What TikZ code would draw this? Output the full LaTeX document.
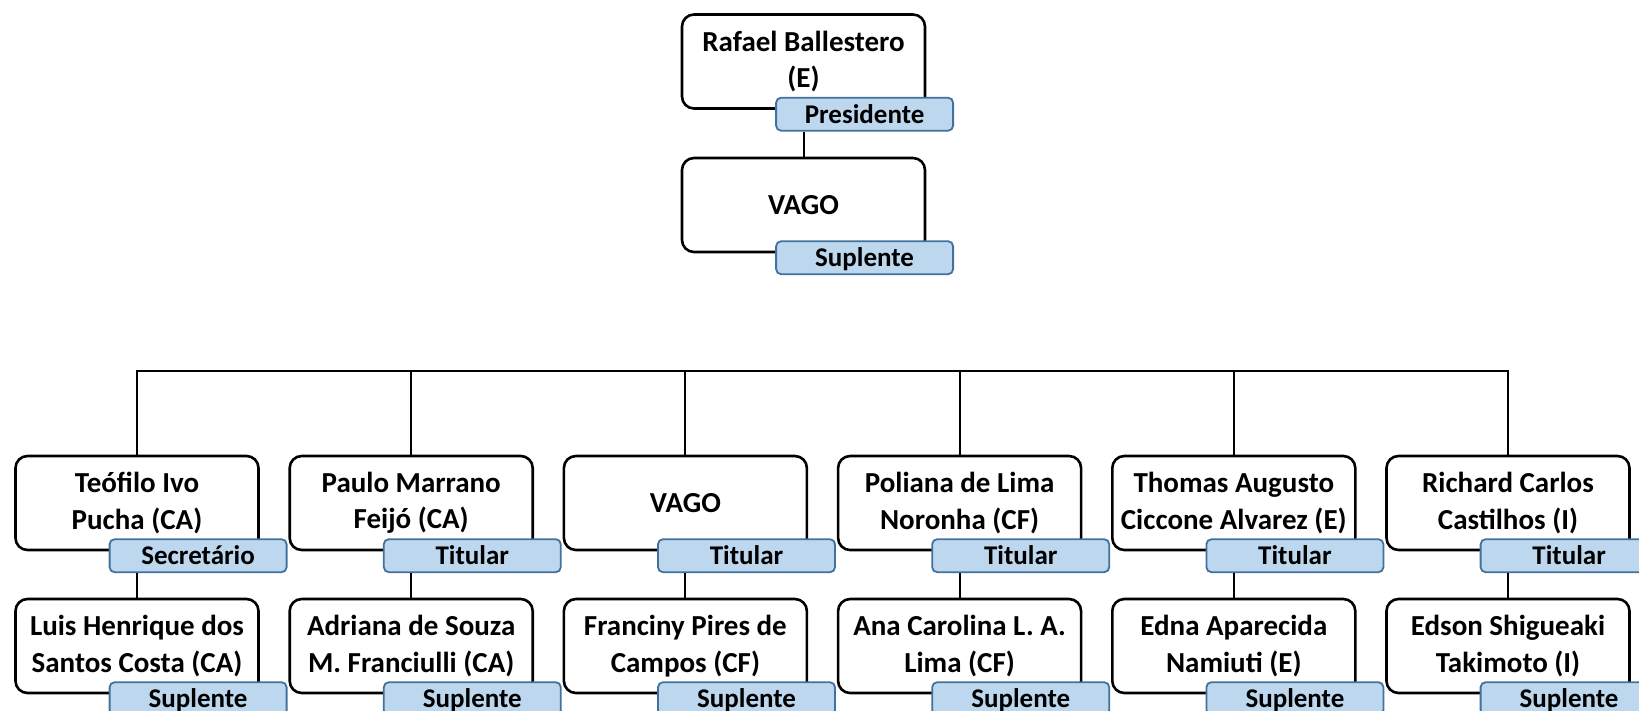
\documentclass[tikz,border=0pt]{standalone}
\usepackage{fontspec}
\setmainfont{Carlito}
\usetikzlibrary{positioning}
\definecolor{rolefill}{HTML}{BDD7EE}
\definecolor{roleline}{HTML}{41719C}

\begin{document}
\begin{tikzpicture}[x=1pt,y=-1pt,
font=\bfseries,
member/.style={draw,line width=2.6pt,rounded corners=12pt,minimum width=243pt,minimum height=94pt,align=center,inner sep=0pt,font=\fontsize{29}{36.5}\selectfont\bfseries},
role/.style={draw=roleline,fill=rolefill,line width=1.8pt,rounded corners=5pt,minimum width=177pt,minimum height=33pt,inner sep=0pt,text height=18pt,text depth=0pt,font=\fontsize{27}{32}\selectfont\bfseries,below right=-13pt and 94.5pt of #1.south west},
link/.style={line width=2pt},
]
\useasboundingbox (0,0) rectangle (1639,710);

%Presidencia
\node[member](pres)at(803.5,61.5){Rafael Ballestero\\(E)};
\node[role=pres](presrole){Presidente};
\node[member](vice)at(803.5,205){VAGO};
\node[role=vice](vicerole){Suplente};

%Titulares
\node[member](m1)at(137,503){Teófilo Ivo\\Pucha (CA)};
\node[role=m1](m1role){Secretário};
\node[member](m2)at(411.2,503){Paulo Marrano\\Feijó (CA)};
\node[role=m2](m2role){Titular};
\node[member](m3)at(685.4,503){VAGO};
\node[role=m3](m3role){Titular};
\node[member](m4)at(959.6,503){Poliana de Lima\\Noronha (CF)};
\node[role=m4](m4role){Titular};
\node[member](m5)at(1233.8,503){Thomas Augusto\\Ciccone Alvarez (E)};
\node[role=m5](m5role){Titular};
\node[member](m6)at(1508,503){Richard Carlos\\Castilhos (I)};
\node[role=m6](m6role){Titular};

%Suplentes
\node[member](s1)at(137,646){Luis Henrique dos\\Santos Costa (CA)};
\node[role=s1](s1role){Suplente};
\node[member](s2)at(411.2,646){Adriana de Souza\\M. Franciulli (CA)};
\node[role=s2](s2role){Suplente};
\node[member](s3)at(685.4,646){Franciny Pires de\\Campos (CF)};
\node[role=s3](s3role){Suplente};
\node[member](s4)at(959.6,646){Ana Carolina L. A.\\Lima (CF)};
\node[role=s4](s4role){Suplente};
\node[member](s5)at(1233.8,646){Edna Aparecida\\Namiuti (E)};
\node[role=s5](s5role){Suplente};
\node[member](s6)at(1508,646){Edson Shigueaki\\Takimoto (I)};
\node[role=s6](s6role){Suplente};

%Ligacoes
\draw[link](presrole.south -| pres)--(vice);
\draw[link](m1.north)--++(0,-84)-|(m6.north);
\draw[link](m2.north)--++(0,-84);
\draw[link](m3.north)--++(0,-84);
\draw[link](m4.north)--++(0,-84);
\draw[link](m5.north)--++(0,-84);
\draw[link](m1role.south -| m1)--(s1);
\draw[link](m2role.south -| m2)--(s2);
\draw[link](m3role.south -| m3)--(s3);
\draw[link](m4role.south -| m4)--(s4);
\draw[link](m5role.south -| m5)--(s5);
\draw[link](m6role.south -| m6)--(s6);

\end{tikzpicture}
\end{document}
